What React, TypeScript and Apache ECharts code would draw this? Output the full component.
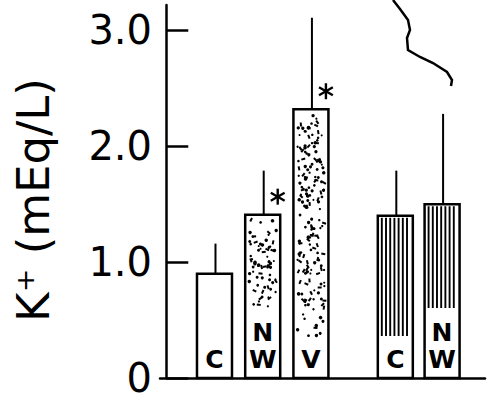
import React, { useEffect, useRef } from "react";
import * as echarts from "echarts";

// Serum potassium by group
const groups = ["C", "NW", "V", "C", "NW"];
const positions = [1, 2, 3, 4.75, 5.72];
const means = [0.9, 1.41, 2.32, 1.4, 1.5];
const upperSD = [1.16, 1.79, 3.11, 1.79, 2.28];
const fills = ["open", "dots", "dots", "lines", "lines"];
const significant = [false, true, true, false, false];
const yTicks = [0, 1, 2, 3];

const FONT = "DejaVu Sans";

// deterministic hash for the stipple texture
function hash(n: number): number {
  const s = Math.sin(n * 12.9898 + 4.1414) * 43758.5453;
  return s - Math.floor(s);
}

function renderBar(params: any, api: any) {
  const i = params.dataIndex;
  const x = api.value(0);
  const v = api.value(1);
  const hi = api.value(2);
  const top = api.coord([x, v]);
  const base = api.coord([x, 0]);
  const eb = api.coord([x, hi]);
  const w = 35;
  const cx = top[0];
  const left = cx - w / 2;
  const h = base[1] - top[1];
  const label = groups[i];
  const fill = fills[i];
  const twoLetters = label.length === 2;
  const labelTop = base[1] - (twoLetters ? 70 : 42);

  const children: any[] = [];
  children.push({
    type: "line",
    shape: { x1: cx + 1, y1: top[1], x2: cx + 1, y2: eb[1] },
    style: { stroke: "#000", lineWidth: 2 },
  });
  children.push({
    type: "rect",
    shape: { x: left, y: top[1], width: w, height: h },
    style: { fill: "#fff", stroke: "#000", lineWidth: 2.5 },
  });

  if (fill === "dots") {
    const areaTop = top[1] + 4;
    const areaH = labelTop - areaTop;
    const n = Math.round(((w - 8) * areaH) / 34);
    for (let k = 0; k < n; k++) {
      const px = left + 4 + hash(k * 3.1 + i * 101) * (w - 8);
      const py = areaTop + hash(k * 7.7 + i * 53 + 0.5) * areaH;
      const r = 1.0 + hash(k * 1.3 + i * 17) * 0.8;
      const elong = hash(k * 5.9 + i * 29) > 0.7;
      const ang = hash(k * 2.3 + i * 11) * Math.PI;
      children.push(
        elong
          ? {
              type: "line",
              shape: {
                x1: px - 2 * Math.cos(ang),
                y1: py - 2 * Math.sin(ang),
                x2: px + 2 * Math.cos(ang),
                y2: py + 2 * Math.sin(ang),
              },
              style: { stroke: "#000", lineWidth: 2 },
            }
          : { type: "circle", shape: { cx: px, cy: py, r }, style: { fill: "#000" } }
      );
    }
  } else if (fill === "lines") {
    for (let lx = left + 4; lx < left + w - 2; lx += 4.2) {
      children.push({
        type: "line",
        shape: { x1: lx, y1: top[1] + 2, x2: lx, y2: labelTop },
        style: { stroke: "#000", lineWidth: 1.9 },
      });
    }
  }

  const letterStyle = {
    fill: "#000",
    font: `bold 25px "${FONT}"`,
    align: "center",
    verticalAlign: "middle",
  };
  if (twoLetters) {
    children.push({ type: "text", x: cx, y: base[1] - 46, style: { ...letterStyle, text: label[0] } });
    children.push({ type: "text", x: cx, y: base[1] - 19, style: { ...letterStyle, text: label[1] } });
  } else {
    children.push({ type: "text", x: cx, y: base[1] - 19, style: { ...letterStyle, text: label } });
  }

  if (significant[i]) {
    const sx = cx + 15;
    const sy = top[1] - 18;
    const r = 8;
    for (let a = 0; a < 3; a++) {
      const ang = Math.PI / 2 + (a * Math.PI) / 3;
      children.push({
        type: "line",
        shape: {
          x1: sx - r * Math.cos(ang),
          y1: sy - r * Math.sin(ang),
          x2: sx + r * Math.cos(ang),
          y2: sy + r * Math.sin(ang),
        },
        style: { stroke: "#000", lineWidth: 2.4 },
      });
    }
  }

  return { type: "group", children };
}

export default function App() {
  const ref = useRef<HTMLDivElement>(null);

  useEffect(() => {
    if (!ref.current) return;
    const chart = echarts.init(ref.current, null, { renderer: "svg" });
    const data = positions.map((p, i) => [p, means[i], upperSD[i]]);

    chart.setOption({
      animation: false,
      backgroundColor: "#fff",
      grid: { left: 160, right: 5, top: 5, bottom: 25 },
      xAxis: {
        type: "value",
        min: -0.13,
        max: 6.61,
        axisLine: { show: true, onZero: false, lineStyle: { color: "#000", width: 2.5 } },
        axisTick: { show: false },
        axisLabel: { show: false },
        splitLine: { show: false },
      },
      yAxis: {
        type: "value",
        min: 0,
        max: 3.22,
        axisLine: { show: true, lineStyle: { color: "#000", width: 2.5 } },
        axisTick: {
          show: true,
          inside: true,
          length: 22,
          customValues: yTicks,
          lineStyle: { color: "#000", width: 2.5 },
        },
        axisLabel: {
          customValues: yTicks,
          formatter: (v: number) => (v === 0 ? "0" : v.toFixed(1)),
          color: "#000",
          fontSize: 40,
          fontFamily: FONT,
          margin: 8,
        },
        splitLine: { show: false },
      },
      graphic: [
        {
          type: "text",
          x: 33,
          y: 200,
          rotation: Math.PI / 2,
          style: {
            text: "K\u207A (mEq/L)",
            font: `45px "${FONT}"`,
            fill: "#000",
            align: "center",
            verticalAlign: "middle",
          },
        },
        {
          type: "polyline",
          shape: {
            points: [
              [393, 0], [400, 9], [408, 20], [410, 30], [407, 38], [408, 50],
              [420, 57], [433, 63], [447, 72], [452, 80], [451, 86],
            ],
          },
          style: { stroke: "#000", lineWidth: 2.5, fill: "none" },
        },
      ],
      series: [
        {
          type: "custom",
          renderItem: renderBar,
          data,
          encode: { x: 0, y: 1 },
          clip: false,
        },
      ],
    });
    return () => chart.dispose();
  }, []);

  return (
    <div
      ref={ref}
      style={{ position: "fixed", left: 0, top: 0, width: 490, height: 403 }}
    />
  );
}
